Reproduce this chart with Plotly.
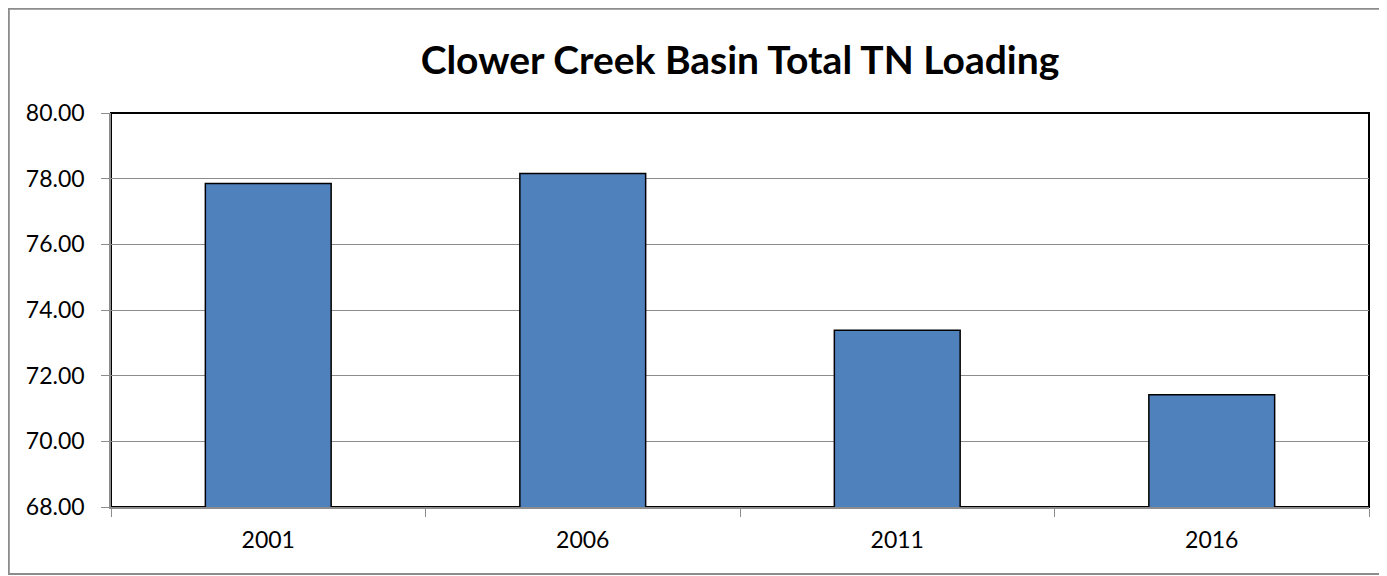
import plotly.graph_objects as go

years = ["2001", "2006", "2011", "2016"]
tn_loading = [77.85, 78.16, 73.38, 71.42]
y_ticks = [68, 70, 72, 74, 76, 78, 80]

OFF = 8  # default page body margin
W, H = 1387 - OFF, 576 - OFF
L, R, T, B = 111 - OFF, 1369 - OFF, 113 - OFF, 507 - OFF
pw, ph = R - L, B - T

def px_x(x):
    return (x - OFF - L) / pw

def px_y(y):
    return (B - (y - OFF)) / ph

fig = go.Figure()
fig.add_trace(go.Bar(
    x=years, y=tn_loading,
    marker=dict(color="#4F81BD", line=dict(color="#000000", width=1.5)),
))

fig.update_layout(
    width=W, height=H,
    margin=dict(l=L, r=W - R, t=T, b=H - B),
    paper_bgcolor="white", plot_bgcolor="white",
    bargap=0.6,
    showlegend=False,
    title=dict(text="<b>Clower Creek Basin Total TN Loading</b>",
               x=0.5, xanchor="center", xref="paper",
               y=1 - (60 - OFF) / H, yanchor="middle", yref="container",
               font=dict(family="Lato", size=39, color="#000000")),
    font=dict(family="Lato", size=23, color="#000000"),
    shapes=[
        dict(type="rect", xref="paper", yref="paper",
             x0=0, x1=1, y0=0, y1=1,
             line=dict(color="#000000", width=2), layer="below"),
        dict(type="rect", xref="paper", yref="paper",
             x0=px_x(8.8), x1=px_x(1386.2), y0=px_y(574), y1=px_y(8.8),
             line=dict(color="#8C8C8C", width=2), layer="below"),
    ],
)

fig.update_yaxes(
    range=[68, 80], tickvals=y_ticks, tickformat=".2f",
    showgrid=True, gridcolor="#8C8C8C", gridwidth=1,
    showline=True, linecolor="#8C8C8C", linewidth=1.5,
    ticks="outside", ticklen=8, tickcolor="#8C8C8C",
    ticklabelstandoff=12,
    zeroline=False,
    tickfont=dict(family="Lato", size=23, color="#000000"),
)
fig.update_xaxes(
    type="category",
    showline=True, linecolor="#8C8C8C", linewidth=1.5,
    ticks="outside", ticklen=8, tickcolor="#8C8C8C",
    tickson="boundaries",
    ticklabelstandoff=12,
    showgrid=False,
    tickfont=dict(family="Lato", size=23, color="#000000"),
)

fig.write_html("out.html")
